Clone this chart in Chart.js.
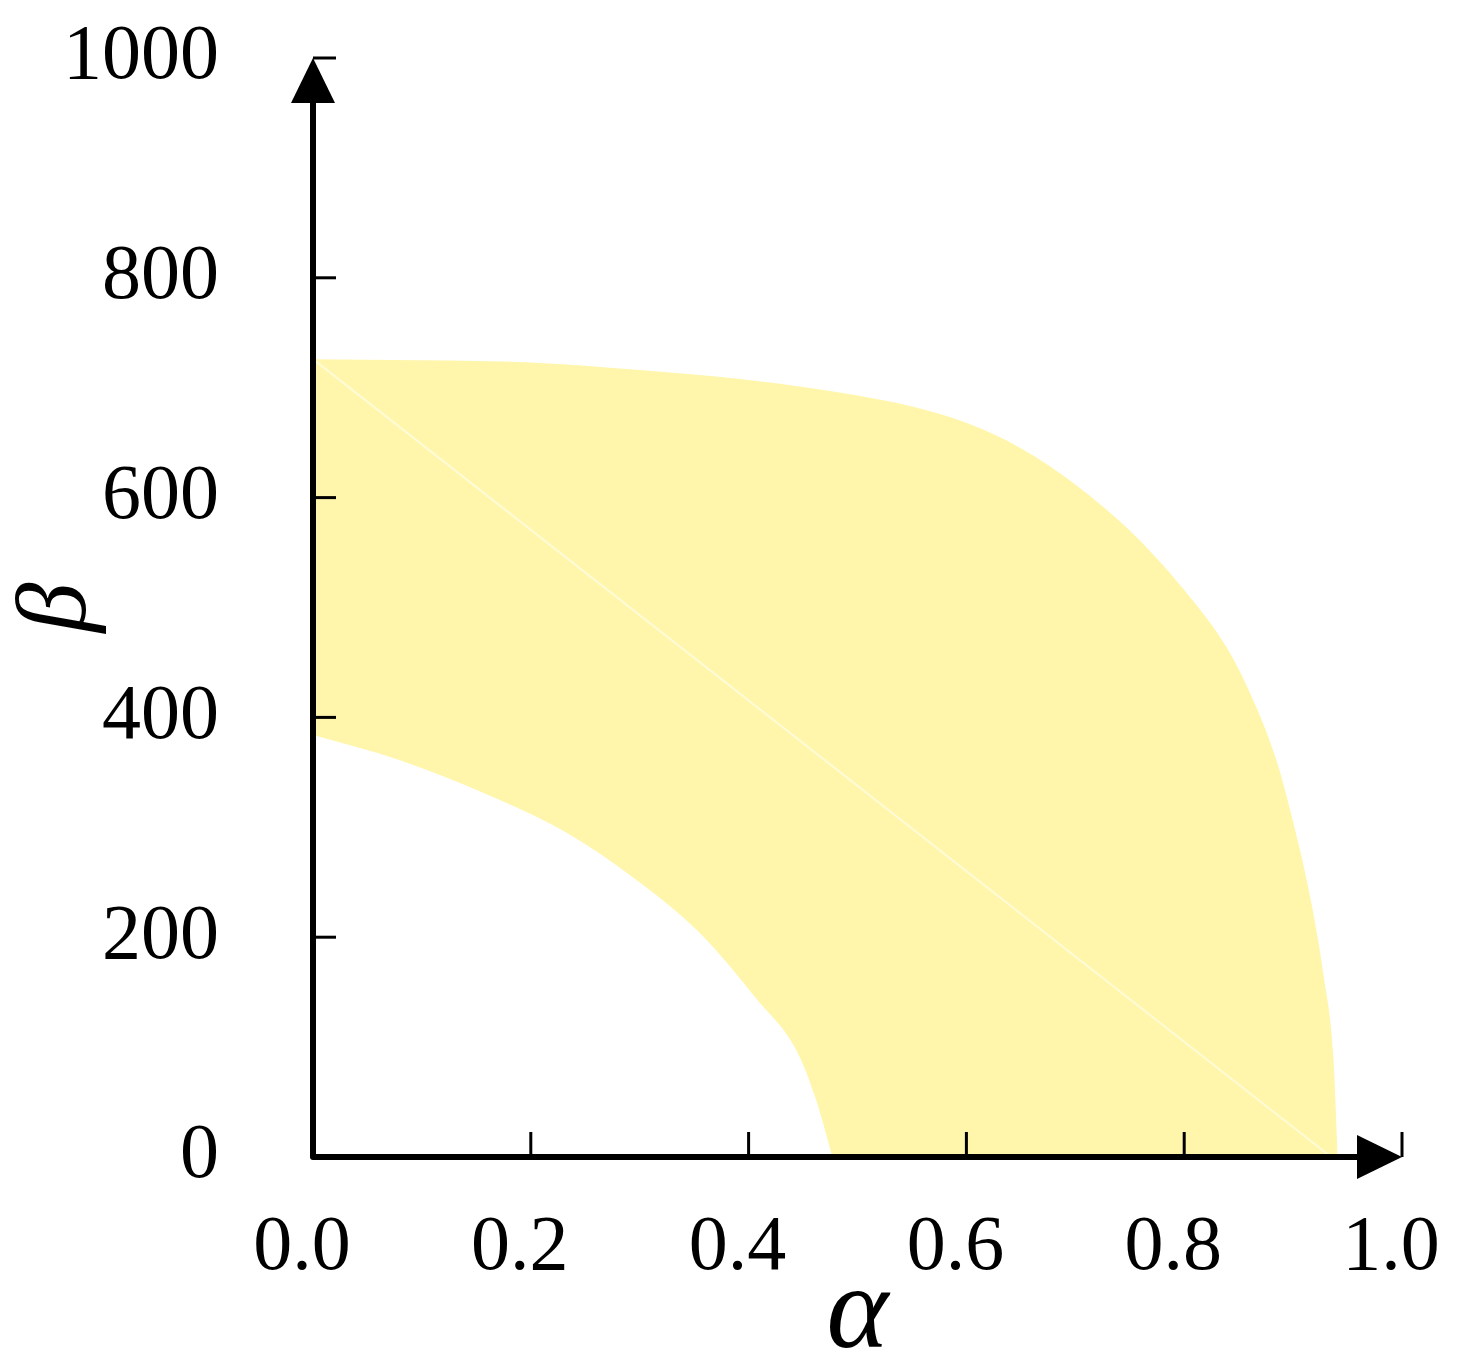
<!DOCTYPE html>
<html>
<head>
<meta charset="utf-8">
<script src="https://cdn.jsdelivr.net/npm/chart.js@4.4.0/dist/chart.umd.min.js"></script>
<style>
  html, body { margin: 0; padding: 0; background: #fff; }
  canvas { display: block; }
</style>
</head>
<body>
<canvas id="regionChart" width="1467" height="1363"></canvas>
<script>
// tick values on both axes
const X_TICKS = [0, 0.2, 0.4, 0.6, 0.8, 1.0];
const Y_TICKS = [0, 200, 400, 600, 800, 1000];

// outer boundary of the shaded region
const OUTER_ALPHA = [0, 0.1, 0.2, 0.3, 0.4, 0.5, 0.55, 0.6, 0.65, 0.7, 0.75, 0.8, 0.84, 0.865, 0.885, 0.9, 0.915, 0.928, 0.937, 0.941];
const OUTER_BETA = [726, 725, 723, 716, 707, 693, 683, 668, 645, 612, 570, 516, 462, 412, 360, 305, 240, 165, 90, 0];

// inner boundary
const INNER_ALPHA = [0, 0.08, 0.171, 0.233, 0.293, 0.355, 0.408, 0.444, 0.462, 0.477];
const INNER_BETA = [384, 361, 325, 295, 255, 204, 143, 97, 52, 0];

// faint straight line across the band
const DIAG_ALPHA = [0, 0.935];
const DIAG_BETA = [726, 0];

const FILL_COLOR = "rgb(255,246,171)";
const SERIF = "'Liberation Serif', 'Times New Roman', serif";

function toPoints(xs, ys) {
  return xs.map((x, i) => ({ x, y: ys[i] }));
}

// axes with arrow heads and inward ticks, drawn over the fill
const arrowAxes = {
  id: "arrowAxes",
  afterDatasetsDraw(chart) {
    const { ctx, scales } = chart;
    const xs = scales.x, ys = scales.y;
    const x0 = xs.getPixelForValue(0), y0 = ys.getPixelForValue(0);
    const xEnd = xs.getPixelForValue(1.0), yEnd = ys.getPixelForValue(1000);
    const head = 45, half = 22;

    ctx.save();
    ctx.strokeStyle = "#000";
    ctx.fillStyle = "#000";

    ctx.lineWidth = 6;
    ctx.lineJoin = "round";
    ctx.beginPath();
    ctx.moveTo(x0, yEnd + head);
    ctx.lineTo(x0, y0);
    ctx.lineTo(xEnd - head, y0);
    ctx.stroke();

    ctx.beginPath();
    ctx.moveTo(x0, yEnd);
    ctx.lineTo(x0 - half, yEnd + head);
    ctx.lineTo(x0 + half, yEnd + head);
    ctx.closePath();
    ctx.fill();

    ctx.beginPath();
    ctx.moveTo(xEnd, y0);
    ctx.lineTo(xEnd - head, y0 - half);
    ctx.lineTo(xEnd - head, y0 + half);
    ctx.closePath();
    ctx.fill();

    ctx.lineWidth = 3;
    ctx.lineCap = "butt";
    Y_TICKS.slice(1).forEach((v) => {
      const py = ys.getPixelForValue(v);
      ctx.beginPath();
      ctx.moveTo(x0, py);
      ctx.lineTo(x0 + 23, py);
      ctx.stroke();
    });
    X_TICKS.slice(1).forEach((v) => {
      const px = xs.getPixelForValue(v);
      ctx.beginPath();
      ctx.moveTo(px, y0);
      ctx.lineTo(px, y0 - 25);
      ctx.stroke();
    });
    ctx.restore();
  },
};

new Chart(document.getElementById("regionChart"), {
  type: "line",
  data: {
    datasets: [
      {
        label: "outer",
        data: toPoints(OUTER_ALPHA, OUTER_BETA),
        borderWidth: 0,
        pointRadius: 0,
        backgroundColor: FILL_COLOR,
        fill: "origin",
        cubicInterpolationMode: "monotone",
        order: 2,
      },
      {
        label: "inner",
        data: toPoints(INNER_ALPHA, INNER_BETA),
        borderWidth: 0,
        pointRadius: 0,
        backgroundColor: "#ffffff",
        fill: "origin",
        cubicInterpolationMode: "monotone",
        order: 1,
      },
      {
        label: "diagonal",
        data: toPoints(DIAG_ALPHA, DIAG_BETA),
        borderColor: "rgba(255,252,220,0.9)",
        borderWidth: 2,
        pointRadius: 0,
        fill: false,
        order: 0,
      },
    ],
  },
  options: {
    responsive: false,
    animation: false,
    layout: { padding: { top: 58, right: 65, left: 0, bottom: 0 } },
    plugins: { legend: { display: false }, tooltip: { enabled: false } },
    scales: {
      x: {
        type: "linear",
        min: 0,
        max: 1,
        grid: { display: false, drawTicks: false },
        border: { display: false },
        afterBuildTicks: (s) => { s.ticks = X_TICKS.map((v) => ({ value: v })); },
        afterFit: (s) => {
          s.height = 206;
          s.paddingLeft = 0;
          s.paddingRight = 0;
        },
        ticks: {
          color: "#000",
          padding: 45,
          labelOffset: -11,
          maxRotation: 0,
          font: { family: SERIF, size: 78 },
          callback: (v) => Number(v).toFixed(1),
        },
        title: {
          display: true,
          text: "α",
          color: "#000",
          padding: { top: 0, bottom: 0 },
          font: { family: SERIF, size: 118, style: "italic", lineHeight: 0.8 },
        },
      },
      y: {
        type: "linear",
        min: 0,
        max: 1000,
        grid: { display: false, drawTicks: false },
        border: { display: false },
        afterBuildTicks: (s) => { s.ticks = Y_TICKS.map((v) => ({ value: v })); },
        afterFit: (s) => {
          s.width = 313;
          s.paddingTop = 0;
          s.paddingBottom = 0;
        },
        ticks: {
          color: "#000",
          padding: 94,
          font: { family: SERIF, size: 78 },
          callback: (v) => String(v),
        },
        title: {
          display: true,
          text: "β",
          color: "#000",
          padding: { top: 14, bottom: 0 },
          font: { family: SERIF, size: 100, style: "italic", lineHeight: 0.9 },
        },
      },
    },
  },
  plugins: [arrowAxes],
});
</script>
</body>
</html>
